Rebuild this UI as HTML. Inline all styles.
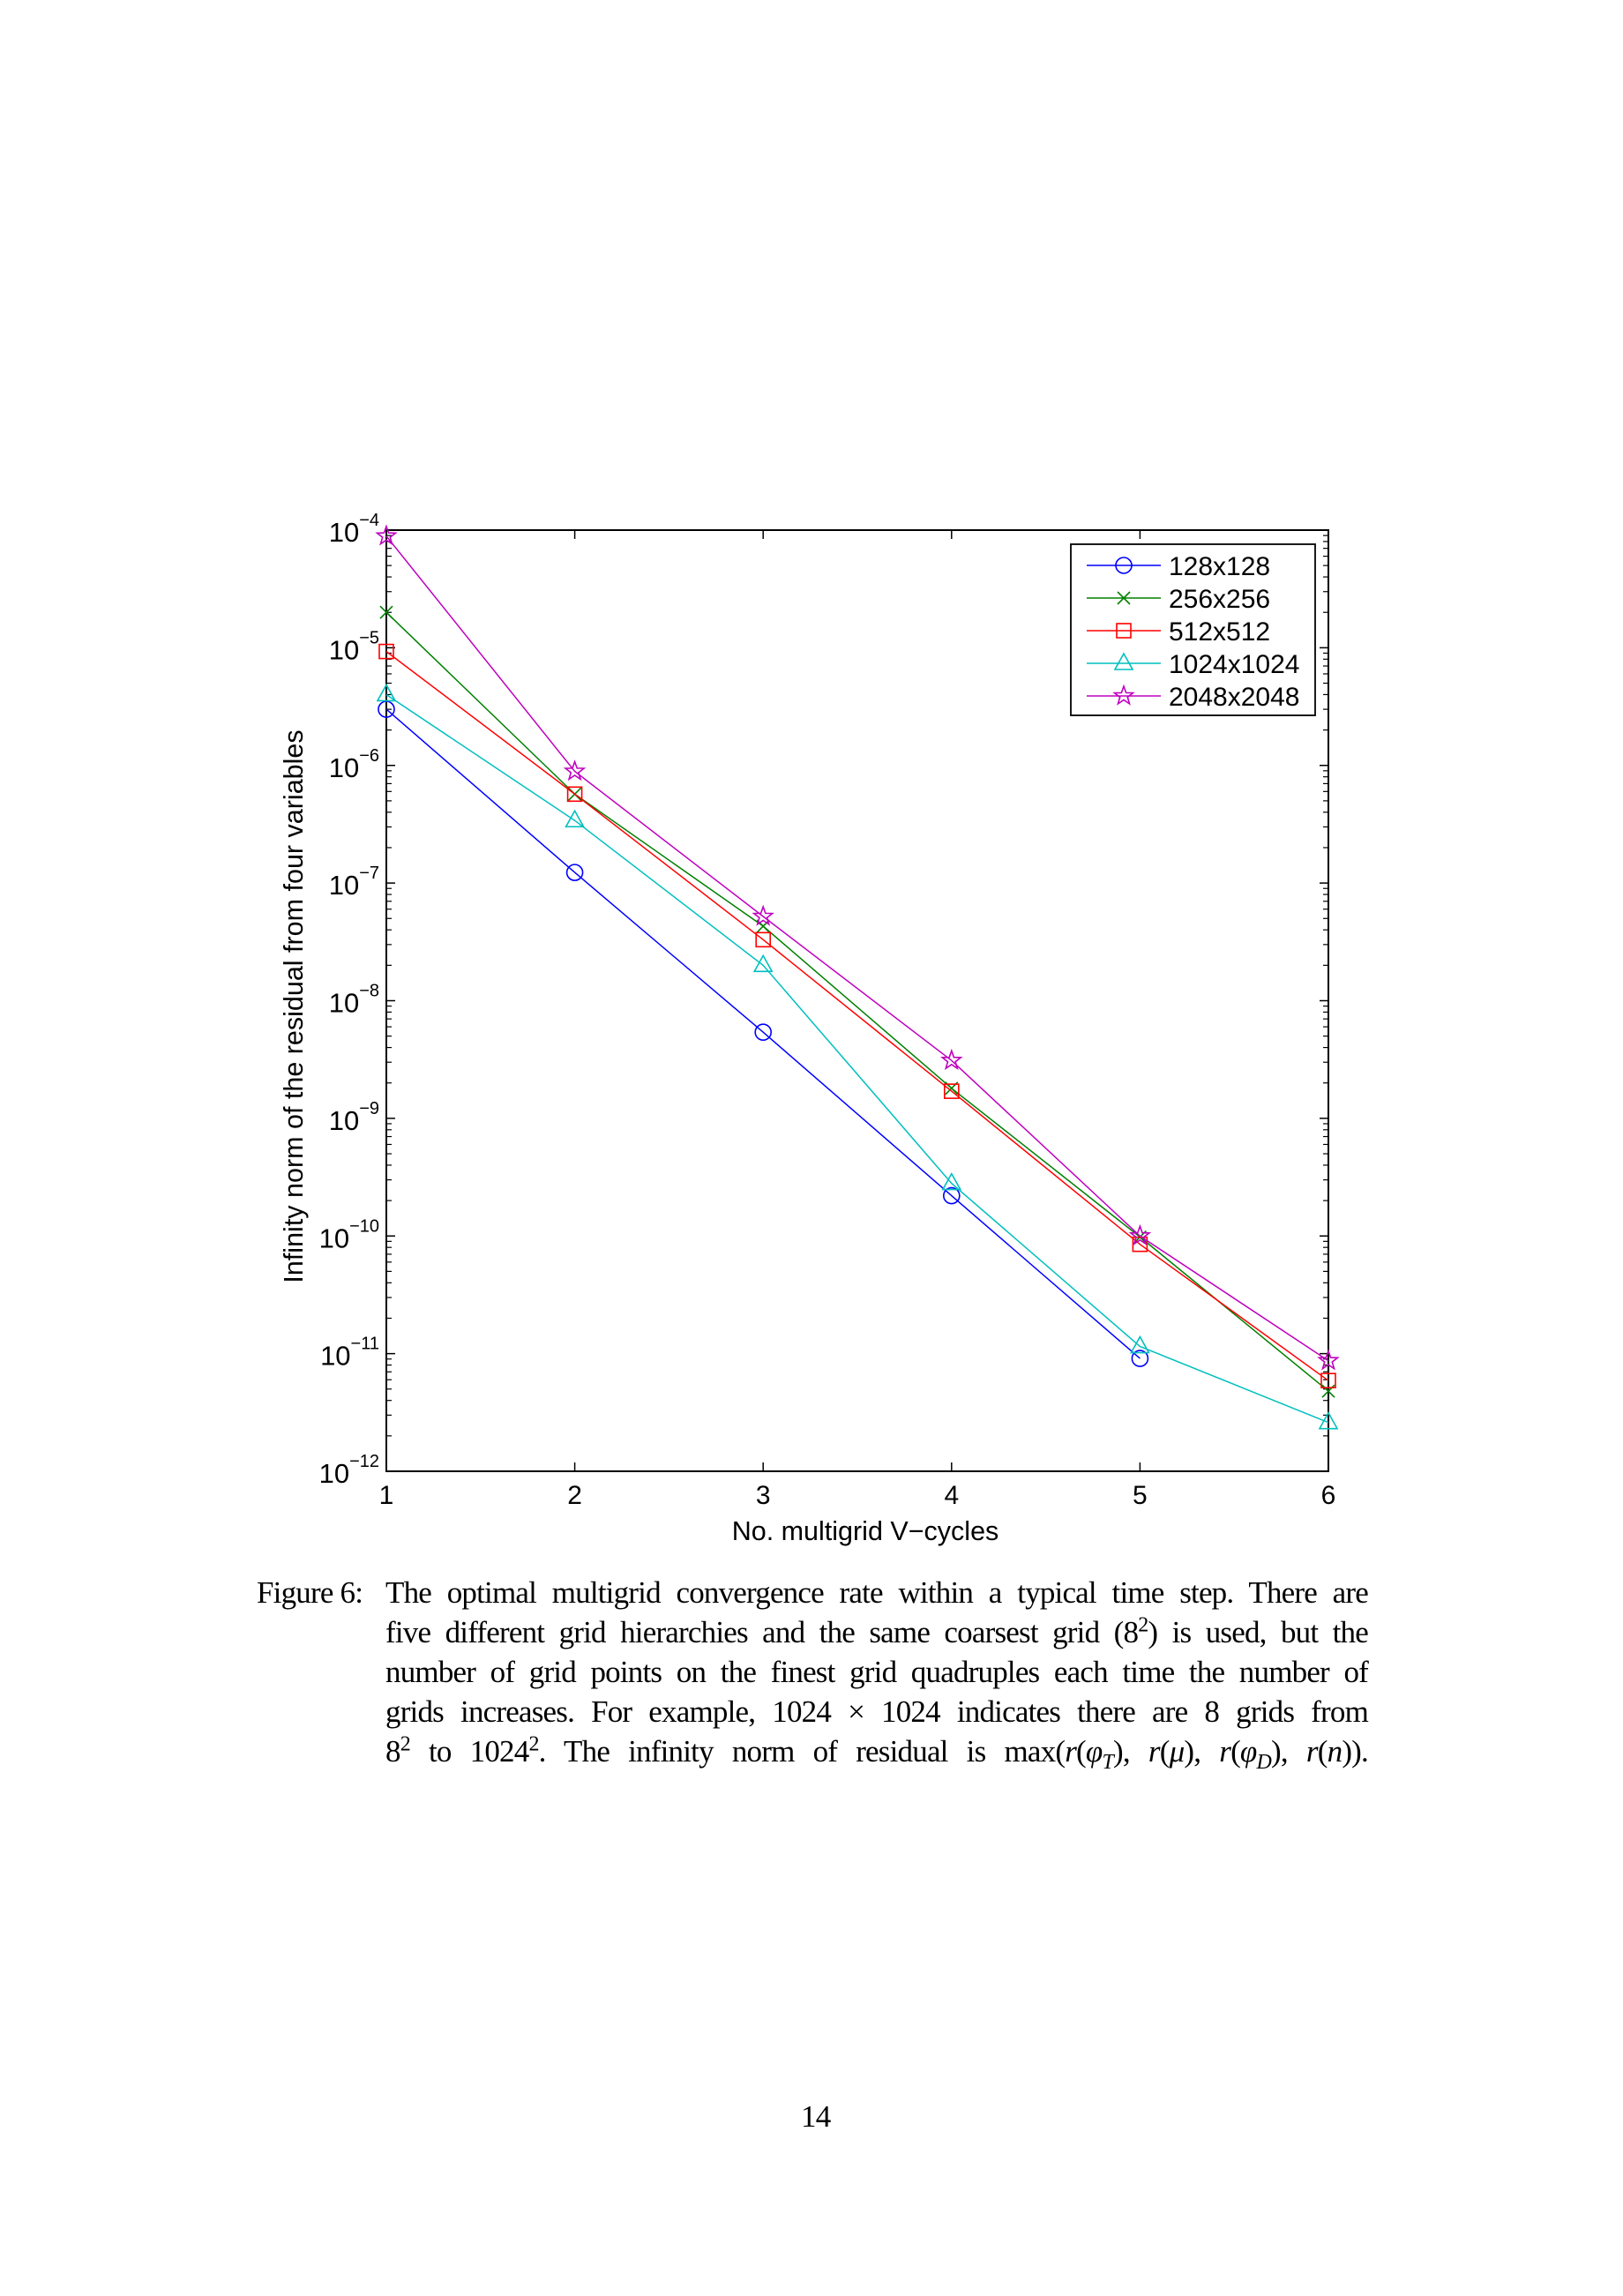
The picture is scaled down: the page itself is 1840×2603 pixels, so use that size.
<!DOCTYPE html>
<html><head><meta charset="utf-8"><style>
html,body{margin:0;padding:0;background:#fff;}
body{width:1840px;height:2603px;position:relative;overflow:hidden;}
svg{position:absolute;left:0;top:0;}
.cap{position:absolute;font-family:"Liberation Serif",serif;font-size:35px;letter-spacing:-0.8px;color:#000;white-space:nowrap;}
.ln{position:absolute;left:437px;width:1114px;text-align:justify;text-align-last:justify;white-space:normal;line-height:40px;}
i{font-style:italic;}
sup,sub{line-height:0;}
</style></head><body>
<svg id="chart" width="1840" height="2603"></svg>
<div class="cap" style="left:0;top:0;width:1840px;height:2100px;">
 <div style="position:absolute;left:291px;top:1786px;line-height:40px;">Figure 6:</div>
 <div class="ln" style="top:1786px;">The optimal multigrid convergence rate within a typical time step. There are</div>
 <div class="ln" style="top:1831px;">five different grid hierarchies and the same coarsest grid (8<sup style="font-size:24px">2</sup>) is used, but the</div>
 <div class="ln" style="top:1876px;">number of grid points on the finest grid quadruples each time the number of</div>
 <div class="ln" style="top:1921px;">grids increases. For example, 1024 × 1024 indicates there are 8 grids from</div>
 <div class="ln" style="top:1966px;">8<sup style="font-size:24px">2</sup> to 1024<sup style="font-size:24px">2</sup>. The infinity norm of residual is max(<i>r</i>(<i>φ<sub style="font-size:24px">T</sub></i>), <i>r</i>(<i>μ</i>), <i>r</i>(<i>φ<sub style="font-size:24px">D</sub></i>), <i>r</i>(<i>n</i>)).</div>
</div>
<div class="cap" style="left:908px;top:2380px;">14</div>
<script>
const categories=[1,2,3,4,5,6];
const seriesNames=["128x128","256x256","512x512","1024x1024","2048x2048"];
const s128=[3.0e-6,1.23e-7,5.4e-9,2.2e-10,9.1e-12];
const s256=[2.0e-5,5.7e-7,4.3e-8,1.8e-9,9.8e-11,4.8e-12];
const s512=[9.3e-6,5.7e-7,3.3e-8,1.7e-9,8.5e-11,5.9e-12];
const s1024=[4.0e-6,3.4e-7,2.0e-8,2.8e-10,1.15e-11,2.6e-12];
const s2048=[8.9e-5,8.9e-7,5.2e-8,3.1e-9,1.0e-10,8.7e-12];
const yTickExps=[-4,-5,-6,-7,-8,-9,-10,-11,-12];
const xTickLabels=["1","2","3","4","5","6"];

const NS="http://www.w3.org/2000/svg";
const svg=document.getElementById('chart');
const L=438,R=1506,T=601,B=1668;
const xs=v=>L+(v-1)/5*(R-L);
const ys=v=>T+(-4-Math.log10(v))/8*(B-T);
function mk(tag,attrs,parent){const e=document.createElementNS(NS,tag);for(const k in attrs)e.setAttribute(k,attrs[k]);(parent||svg).appendChild(e);return e;}
const F='"Liberation Sans",Arial,sans-serif';

const frame=mk('rect',{x:L,y:T,width:R-L,height:B-T,fill:'none',stroke:'#000','stroke-width':2});



categories.forEach((c,i)=>{
  const x=xs(c);
  const t1=mk('line',{x1:x,y1:B,x2:x,y2:B-10,stroke:'#000','stroke-width':1.5});
  
  
  const t2=mk('line',{x1:x,y1:T,x2:x,y2:T+10,stroke:'#000','stroke-width':1.5});
  
  
  const lb=mk('text',{x:x,y:1705,'text-anchor':'middle','font-family':F,'font-size':30});
  lb.textContent=xTickLabels[i];
  
  
});
yTickExps.forEach(e=>{
  const y=ys(Math.pow(10,e));
  [[L,L+10],[R,R-10]].forEach(p=>{
    const t=mk('line',{x1:p[0],y1:y,x2:p[1],y2:y,stroke:'#000','stroke-width':1.5});
    
    
  });
  if(e>-12){for(let m=2;m<=9;m++){const yy=ys(m*Math.pow(10,e-1));
    [[L,L+6],[R,R-6]].forEach(p=>{const t=mk('line',{x1:p[0],y1:yy,x2:p[1],y2:yy,stroke:'#000','stroke-width':1.2});
    
    });}}
  const tx=mk('text',{x:430,y:y+13,'text-anchor':'end','font-family':F,'font-size':31});
  
  
  const a=mk('tspan',{},tx);a.textContent='10';
  const b=mk('tspan',{dy:-18,'font-size':20},tx);b.textContent='\u2212'+(-e);
});
const xl=mk('text',{x:981,y:1746,'text-anchor':'middle','font-family':F,'font-size':30.5});
xl.textContent='No. multigrid V\u2212cycles';


const yl=mk('text',{x:0,y:0,'text-anchor':'middle','font-family':F,'font-size':30.5,transform:'translate(343,1141) rotate(-90)'});
yl.textContent='Infinity norm of the residual from four variables';



function marker(type,x,y,col,g){
  const st={fill:'none',stroke:col,'stroke-width':1.6};
  let m;
  if(type==='o')m=mk('circle',Object.assign({cx:x,cy:y,r:9},st),g);
  else if(type==='x')m=mk('path',Object.assign({d:`M${x-7},${y-7}L${x+7},${y+7}M${x-7},${y+7}L${x+7},${y-7}`},st),g);
  else if(type==='s')m=mk('rect',Object.assign({x:x-8,y:y-8,width:16,height:16},st),g);
  else if(type==='t')m=mk('path',Object.assign({d:`M${x},${y-11}L${x+10},${y+7}L${x-10},${y+7}Z`},st),g);
  else{let d='';for(let k=0;k<10;k++){const r=k%2?4.5:11,a=-Math.PI/2+k*Math.PI/5;d+=(k?'L':'M')+(x+r*Math.cos(a)).toFixed(1)+','+(y+r*Math.sin(a)).toFixed(1);}
    m=mk('path',Object.assign({d:d+'Z'},st),g);}
  
  
}
const all=[s128,s256,s512,s1024,s2048];
const cols=['#0000ff','#008000','#ff0000','#00bfbf','#bf00bf'];
const mks=['o','x','s','t','p'];
all.forEach((s,si)=>{
  const g=mk('g',{});
  
  
  const pts=s.map((v,i)=>xs(categories[i]).toFixed(1)+','+ys(v).toFixed(1)).join(' ');
  const pl=mk('polyline',{points:pts,fill:'none',stroke:cols[si],'stroke-width':1.5},g);
  
  
  s.forEach((v,i)=>marker(mks[si],xs(categories[i]),ys(v),cols[si],g));
});
const lg=mk('g',{});


mk('rect',{x:1214,y:617,width:277,height:194,fill:'#fff',stroke:'#000','stroke-width':1.8},lg);
seriesNames.forEach((n,i)=>{
  const y=641+i*37;
  const eg=mk('g',{},lg);
  
  
  mk('line',{x1:1232,y1:y,x2:1316,y2:y,stroke:cols[i],'stroke-width':1.5},eg);
  marker(mks[i],1274,y,cols[i],eg);
  const t=mk('text',{x:1325,y:y+11,'font-family':F,'font-size':30},eg);
  t.textContent=n;
});
</script>
</body></html>
